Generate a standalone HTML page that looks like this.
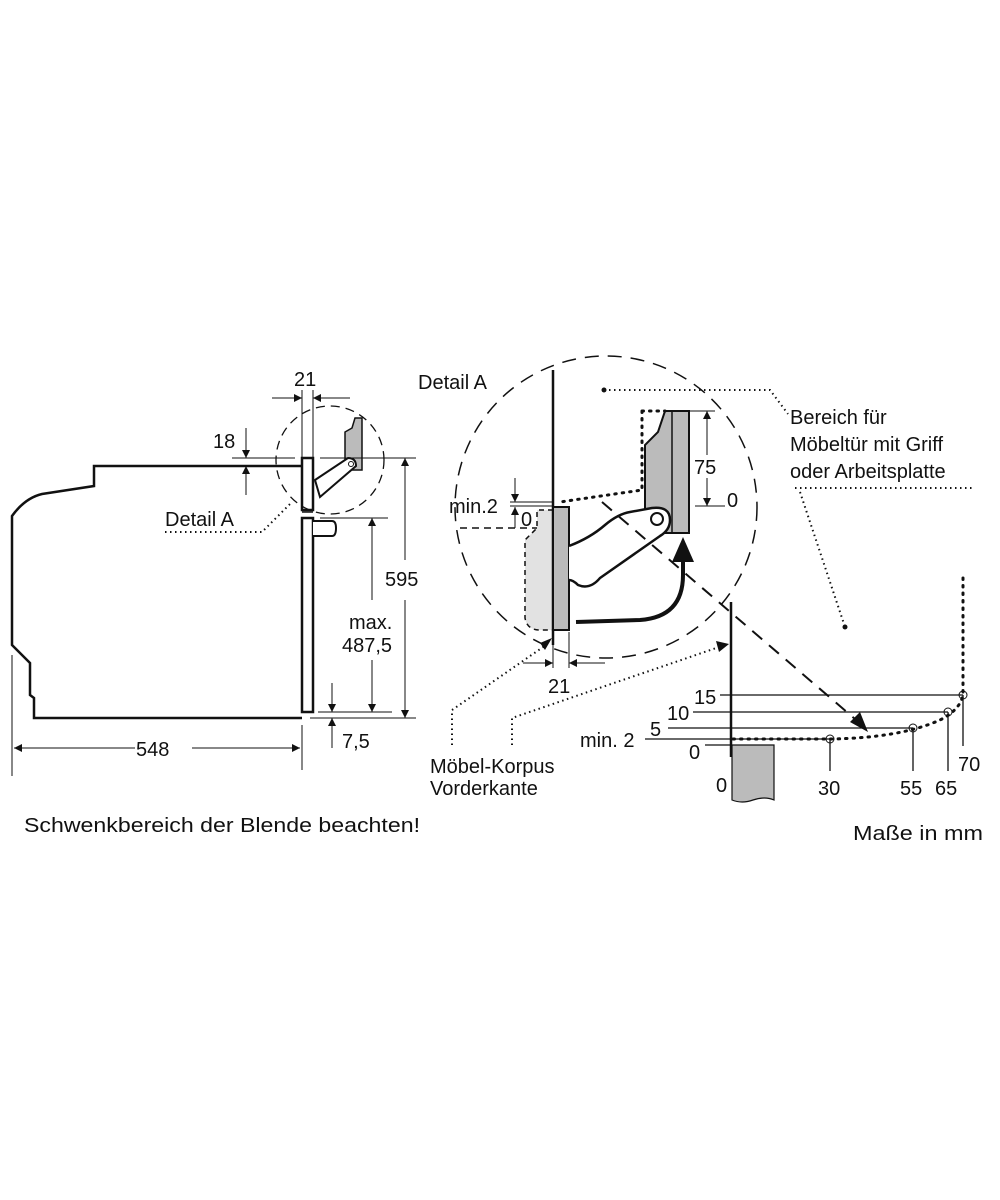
<!DOCTYPE html>
<html><head><meta charset="utf-8"><style>
html,body{margin:0;padding:0;background:#fff;}
svg{display:block;}
text{font-family:"Liberation Sans",sans-serif;font-size:20px;fill:#111;}
</style></head><body>
<svg width="1000" height="1200" viewBox="0 0 1000 1200" xmlns="http://www.w3.org/2000/svg">
<defs>
<marker id="ar" viewBox="0 0 10 10" refX="10" refY="5" markerWidth="10" markerHeight="8" markerUnits="userSpaceOnUse" orient="auto"><path d="M0,0 L10,5 L0,10 z" fill="#111"/></marker>
</defs>
<g stroke="#111" fill="none">
<path d="M302,466 L94,466 L94,486 L42,494 Q25,498 12,516 L12,645 L30,663 L30,695 L34,698 L34,718 L302,718" stroke-width="2.5"/>
<rect x="302" y="458" width="11" height="52" stroke-width="2.5" fill="#fff"/>
<rect x="302" y="518" width="11" height="194" stroke-width="2.5" fill="#fff"/>
<line x1="302" y1="512" x2="313" y2="512" stroke-width="1.5"/>
<path d="M313,521 L332,521 Q336,521 336,528 Q336,536 332,536 L313,536" stroke-width="2" fill="#fff"/>
<path d="M355,418 L362,418 L362,470 L345,470 L345,432 L352,428 Z" fill="#bbb" stroke-width="1.5"/>
<path d="M315,480 L348,458 Q356,458 356,466 L320,497 Z" fill="#fff" stroke-width="2"/>
<circle cx="351" cy="464" r="2.5" stroke-width="1"/>
<circle cx="330" cy="460" r="54" stroke-width="1.3" stroke-dasharray="9,6"/>
<line x1="302" y1="390" x2="302" y2="458" stroke-width="1"/>
<line x1="313" y1="390" x2="313" y2="458" stroke-width="1"/>
<line x1="272" y1="398" x2="302" y2="398" stroke-width="1" marker-end="url(#ar)"/>
<line x1="350" y1="398" x2="313" y2="398" stroke-width="1" marker-end="url(#ar)"/>
<line x1="232" y1="458" x2="295" y2="458" stroke-width="1"/>
<line x1="246" y1="428" x2="246" y2="458" stroke-width="1" marker-end="url(#ar)"/>
<line x1="246" y1="495" x2="246" y2="466" stroke-width="1" marker-end="url(#ar)"/>
<path d="M165,532 L262,532 L292,502" stroke-width="2" stroke-dasharray="1.5,3.5"/>
<line x1="320" y1="458" x2="416" y2="458" stroke-width="1"/>
<line x1="310" y1="718" x2="416" y2="718" stroke-width="1"/>
<line x1="405" y1="560" x2="405" y2="458" stroke-width="1" marker-end="url(#ar)"/>
<line x1="405" y1="600" x2="405" y2="718" stroke-width="1" marker-end="url(#ar)"/>
<line x1="320" y1="518" x2="388" y2="518" stroke-width="1"/>
<line x1="318" y1="712" x2="392" y2="712" stroke-width="1"/>
<line x1="372" y1="600" x2="372" y2="518" stroke-width="1" marker-end="url(#ar)"/>
<line x1="372" y1="660" x2="372" y2="712" stroke-width="1" marker-end="url(#ar)"/>
<line x1="332" y1="683" x2="332" y2="712" stroke-width="1" marker-end="url(#ar)"/>
<line x1="332" y1="748" x2="332" y2="718" stroke-width="1" marker-end="url(#ar)"/>
<line x1="12" y1="655" x2="12" y2="776" stroke-width="1"/>
<line x1="302" y1="725" x2="302" y2="770" stroke-width="1"/>
<line x1="135" y1="748" x2="14" y2="748" stroke-width="1" marker-end="url(#ar)"/>
<line x1="192" y1="748" x2="300" y2="748" stroke-width="1" marker-end="url(#ar)"/>

<circle cx="606" cy="507" r="151" stroke-width="1.5" stroke-dasharray="14,9"/>
<path d="M553,510 L537,510 L537,528 L525,540 L525,618 Q527,630 540,630 L553,630 Z" fill="#e2e2e2" stroke-width="1.5" stroke-dasharray="5,4"/>
<line x1="460" y1="528" x2="537" y2="528" stroke-width="1.5" stroke-dasharray="7,5"/>
<line x1="553" y1="370" x2="553" y2="645" stroke-width="2.5"/>
<rect x="553" y="507" width="16" height="123" fill="#bbb" stroke-width="2"/>
<path d="M665,411 L689,411 L689,533 L672,533 L645,533 L645,445 L658,432 L665,411 Z" fill="#bbb" stroke-width="2"/>
<line x1="672" y1="411" x2="672" y2="533" stroke-width="1.5"/>
<path d="M642,411 L665,411 M642,411 L642,490 L560,502" stroke-width="3" stroke-dasharray="1.5,6" stroke-linecap="round"/>
<path d="M569,546 Q590,538 605,525 Q618,514 630,512 L652,508 Q670,506 670,520 Q670,530 660,536 L600,578 Q590,590 578,585 Q573,580 569,580" fill="#fff" stroke-width="2.5"/>
<circle cx="657" cy="519" r="6" stroke-width="2"/>
<path d="M576,622 L640,620 Q683,617 683,575 L683,560" stroke-width="4"/>
<path d="M672,562 L683,537 L694,562 Z" fill="#111" stroke="none"/>
<path d="M602,502 L862,725" stroke-width="2" stroke-dasharray="13,9"/>
<path d="M850,722 L868,732 L860,712 Z" fill="#111" stroke="none"/>
<line x1="690" y1="411" x2="715" y2="411" stroke-width="1"/>
<line x1="695" y1="506" x2="725" y2="506" stroke-width="1"/>
<line x1="707" y1="455" x2="707" y2="411" stroke-width="1" marker-end="url(#ar)"/>
<line x1="707" y1="478" x2="707" y2="506" stroke-width="1" marker-end="url(#ar)"/>
<line x1="510" y1="502" x2="553" y2="502" stroke-width="1"/>
<line x1="510" y1="506" x2="553" y2="506" stroke-width="1"/>
<line x1="515" y1="478" x2="515" y2="502" stroke-width="1" marker-end="url(#ar)"/>
<line x1="515" y1="528" x2="515" y2="507" stroke-width="1" marker-end="url(#ar)"/>
<line x1="553" y1="640" x2="553" y2="668" stroke-width="1"/>
<line x1="569" y1="632" x2="569" y2="668" stroke-width="1"/>
<line x1="523" y1="663" x2="553" y2="663" stroke-width="1" marker-end="url(#ar)"/>
<line x1="605" y1="663" x2="569" y2="663" stroke-width="1" marker-end="url(#ar)"/>
<path d="M452,745 L452,710 L546,645" stroke-width="2" stroke-dasharray="1.5,3.5"/>
<path d="M540,643 L552,638 L545,650 Z" fill="#111" stroke="none"/>
<path d="M512,745 L512,718 L722,646" stroke-width="2" stroke-dasharray="1.5,3.5"/>
<path d="M716,641 L729,644 L719,652 Z" fill="#111" stroke="none"/>
<path d="M604,390 L770,390 L788,414" stroke-width="2" stroke-dasharray="1.5,3.5"/>
<path d="M795,488 L972,488 M800,492 L845,627" stroke-width="2" stroke-dasharray="1.5,3.5"/>
<line x1="731" y1="602" x2="731" y2="757" stroke-width="2.5"/>
<path d="M732,745 L774,745 L774,800 Q765,796 753,800 Q742,804 732,800 Z" fill="#bbb" stroke-width="1.2"/>
<line x1="720" y1="695" x2="963" y2="695" stroke-width="1.3"/>
<line x1="693" y1="712" x2="948" y2="712" stroke-width="1.3"/>
<line x1="668" y1="728" x2="913" y2="728" stroke-width="1.3"/>
<line x1="645" y1="739" x2="830" y2="739" stroke-width="1.3"/>
<line x1="705" y1="745" x2="731" y2="745" stroke-width="1.3"/>
<line x1="830" y1="739" x2="830" y2="771" stroke-width="1.3"/>
<line x1="913" y1="728" x2="913" y2="771" stroke-width="1.3"/>
<line x1="948" y1="712" x2="948" y2="771" stroke-width="1.3"/>
<line x1="963" y1="695" x2="963" y2="746" stroke-width="1.3"/>
<path d="M733,739 L830,739 Q900,738 940,720 Q960,710 963,695 L963,578" stroke-width="3" stroke-dasharray="1.5,6" stroke-linecap="round"/>
<circle cx="830" cy="739" r="4" stroke-width="1"/>
<circle cx="913" cy="728" r="4" stroke-width="1"/>
<circle cx="948" cy="712" r="4" stroke-width="1"/>
<circle cx="963" cy="695" r="4" stroke-width="1"/>
</g>
<circle cx="604" cy="390" r="2.5" fill="#111"/>
<circle cx="845" cy="627" r="2.5" fill="#111"/>

<text x="294" y="386">21</text>
<text x="213" y="448">18</text>
<text x="165" y="526">Detail A</text>
<rect x="385" y="567" width="40" height="24" fill="#fff"/>
<text x="385" y="586">595</text>
<rect x="342" y="606" width="60" height="52" fill="#fff"/>
<text x="349" y="629">max.</text>
<text x="342" y="652">487,5</text>
<text x="342" y="748">7,5</text>
<text x="136" y="756">548</text>
<text x="418" y="389">Detail A</text>
<text x="449" y="513">min.2</text>
<text x="521" y="526">0</text>
<text x="694" y="474">75</text>
<text x="727" y="507">0</text>
<text x="548" y="693">21</text>
<text x="790" y="424">Bereich für</text>
<text x="790" y="451">Möbeltür mit Griff</text>
<text x="790" y="478">oder Arbeitsplatte</text>
<text x="694" y="704">15</text>
<text x="667" y="720">10</text>
<text x="650" y="736">5</text>
<text x="580" y="747">min. 2</text>
<text x="689" y="759">0</text>
<text x="716" y="792">0</text>
<text x="818" y="795">30</text>
<text x="900" y="795">55</text>
<text x="935" y="795">65</text>
<text x="958" y="771">70</text>
<text x="430" y="773">Möbel-Korpus</text>
<text x="430" y="795">Vorderkante</text>
<text x="24" y="832" textLength="396" lengthAdjust="spacingAndGlyphs">Schwenkbereich der Blende beachten!</text>
<text x="853" y="840" textLength="130" lengthAdjust="spacingAndGlyphs">Maße in mm</text>
</svg>
</body></html>
